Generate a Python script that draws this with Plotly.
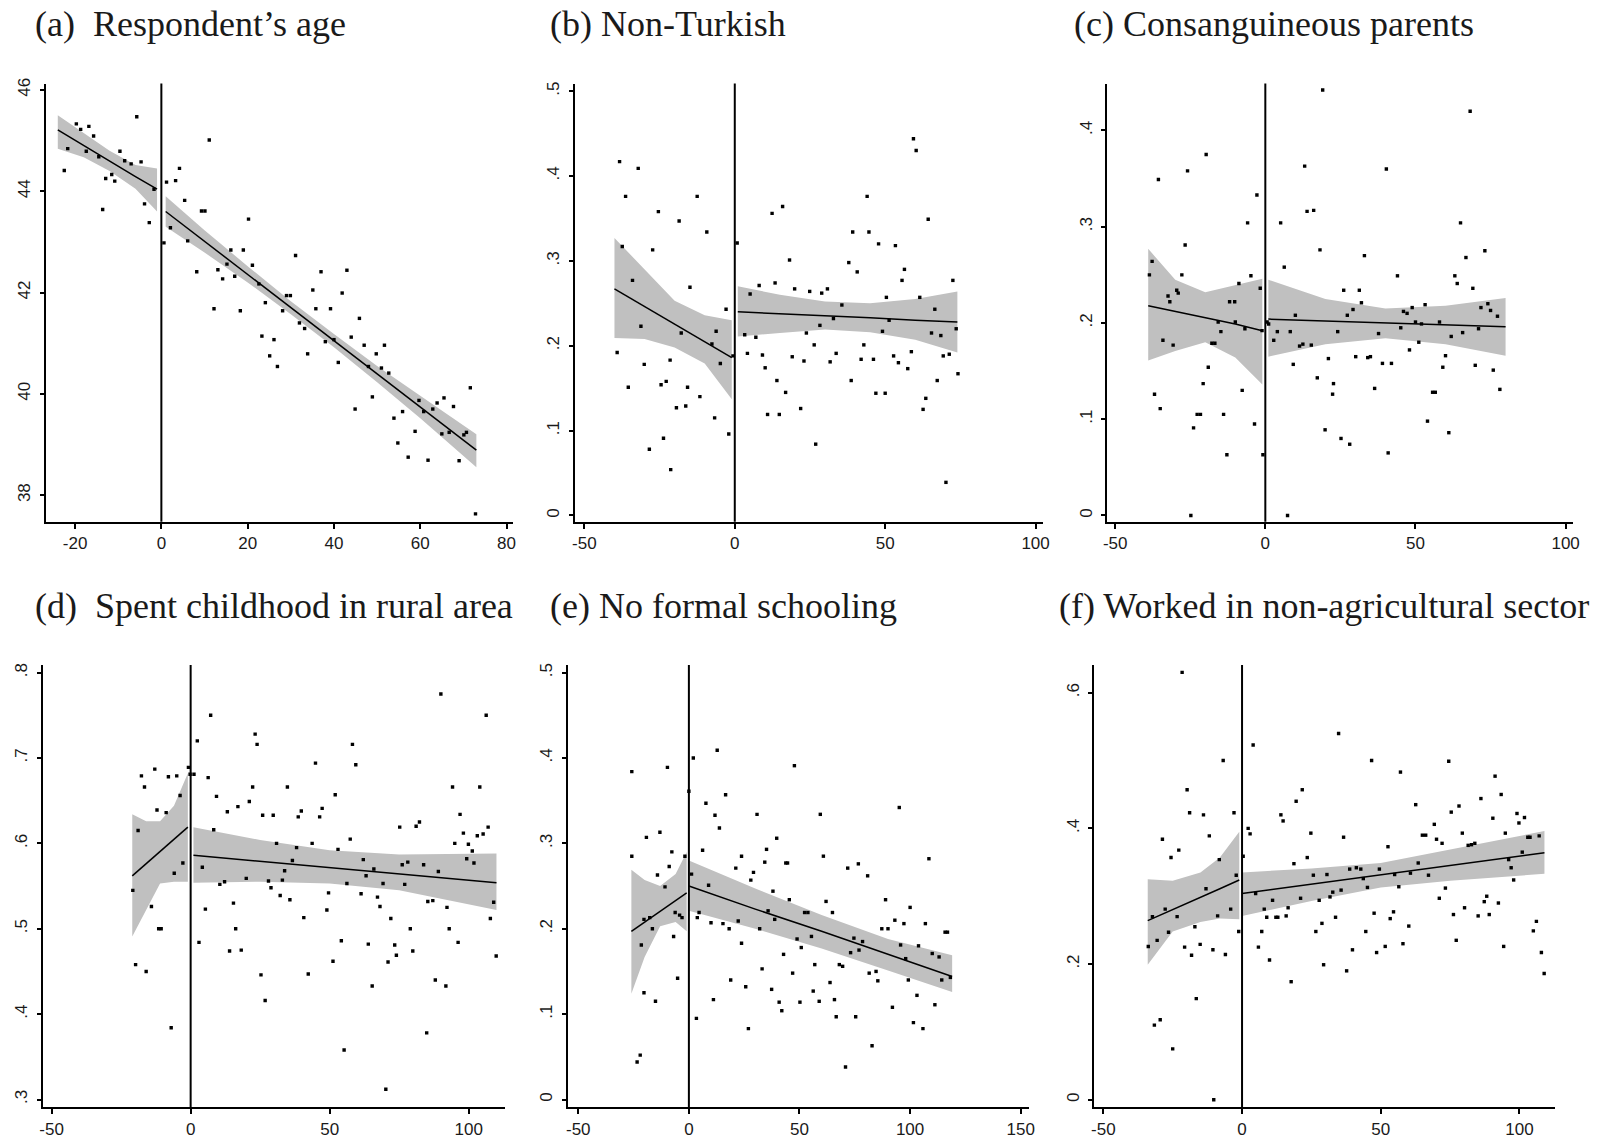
import plotly.graph_objects as go

# ---------------- (a) Respondent's age ----------------
a_x = [-22.5,-21.7,-19.7,-18.7,-16.8,-15.7,-17.4,-14.5,-13.6,-12.9,-11.5,-10.8,-9.6,-8.5,-7.0,-5.7,-4.7,-3.9,-2.8,-1.7,
       0.6,1.2,2.1,3.3,4.2,5.4,6.1,8.2,9.3,10.1,11.1,12.2,13.1,14.2,15.2,16.1,17.0,18.3,19.0,20.2,21.1,22.6,23.3,24.1,25.1,
       26.1,26.9,28.1,29.0,29.9,31.1,32.0,33.2,33.9,35.1,35.8,37.0,38.0,39.2,40.0,41.0,41.9,43.0,44.0,44.9,45.9,47.0,48.0,
       48.9,49.8,51.0,51.7,52.7,53.9,54.8,55.9,57.2,58.8,59.7,60.8,61.8,62.9,63.9,65.0,65.5,66.7,67.7,69.0,70.1,70.7,71.6,72.8]
a_y = [44.41,44.84,45.33,45.22,45.28,45.09,44.79,44.68,43.64,44.25,44.33,44.20,44.79,44.60,44.54,45.47,44.58,43.75,43.38,44.04,
       42.98,44.18,43.28,44.21,44.45,43.82,43.02,42.41,43.61,43.61,45.01,41.68,42.45,42.27,42.56,42.84,42.32,41.64,42.84,43.45,
       42.54,42.17,41.14,41.80,40.75,41.07,40.54,41.64,41.94,41.94,42.73,41.40,41.29,40.79,42.05,41.68,42.41,41.03,41.68,41.07,
       40.62,41.99,42.44,41.12,39.70,41.49,40.96,40.54,39.94,40.79,40.51,40.96,40.41,39.52,39.03,39.65,38.75,39.26,39.87,39.65,
       38.69,39.70,39.82,39.21,39.92,39.24,39.75,38.68,39.19,39.24,40.12,37.63]
a_left_x = [-24, -18, -12, -6, -1]
a_left_fit = [45.21, 44.90, 44.60, 44.29, 44.04]
a_left_hi = [45.50, 45.15, 44.80, 44.52, 44.45]
a_left_lo = [44.84, 44.67, 44.40, 44.05, 43.60]
a_right_x = [1, 10, 20, 30, 40, 50, 60, 73]
a_right_fit = [43.60, 43.01, 42.36, 41.70, 41.05, 40.39, 39.74, 38.89]
a_right_hi = [43.90, 43.23, 42.52, 41.83, 41.18, 40.55, 39.96, 39.20]
a_right_lo = [43.30, 42.79, 42.20, 41.57, 40.92, 40.23, 39.52, 38.55]

# ---------------- (b) Non-Turkish ----------------
b_x = [-39.1,-38.3,-37.4,-36.3,-35.4,-34.0,-32.1,-31.2,-30.1,-28.4,-27.3,-25.4,-24.5,-23.7,-22.8,-21.5,-21.3,-19.4,-18.5,-17.8,
       -16.3,-15.7,-14.9,-12.5,-11.6,-9.3,-7.6,-6.7,-6.2,-4.8,-2.9,-2.0,-0.6,0.8,3.3,4.2,5.1,7.0,8.1,9.2,10.1,10.9,12.4,13.4,
       14.0,14.8,15.9,16.9,18.2,19.1,19.9,21.9,23.0,23.8,24.9,26.4,26.9,28.3,28.9,30.8,31.7,32.8,33.7,35.6,37.9,38.7,39.2,40.7,
       42.9,42.0,44.0,44.6,46.1,46.9,47.8,49.1,50.0,50.4,51.3,52.8,53.4,54.4,55.6,56.4,57.5,58.7,59.4,60.3,61.5,62.6,63.5,64.3,
       65.4,66.5,67.3,68.5,69.3,70.2,71.3,72.5,73.6,74.2]
b_y = [0.192,0.417,0.317,0.376,0.151,0.277,0.409,0.223,0.178,0.078,0.313,0.358,0.154,0.091,0.158,0.183,0.054,0.127,0.347,0.215,
       0.129,0.151,0.269,0.376,0.140,0.334,0.202,0.115,0.217,0.179,0.243,0.096,0.188,0.321,0.213,0.191,0.261,0.210,0.271,0.189,
       0.174,0.119,0.356,0.274,0.159,0.119,0.364,0.145,0.301,0.187,0.267,0.126,0.182,0.215,0.264,0.201,0.084,0.224,0.262,0.267,
       0.181,0.232,0.191,0.248,0.298,0.159,0.334,0.287,0.201,0.184,0.376,0.334,0.184,0.144,0.320,0.217,0.144,0.257,0.230,0.188,
       0.318,0.180,0.277,0.290,0.173,0.193,0.444,0.430,0.257,0.125,0.138,0.349,0.215,0.243,0.159,0.212,0.188,0.039,0.190,0.277,
       0.220,0.167]
b_left_x = [-40, -30, -20, -10, -1]
b_left_fit = [0.267, 0.246, 0.225, 0.205, 0.186]
b_left_hi = [0.327, 0.290, 0.253, 0.236, 0.230]
b_left_lo = [0.209, 0.208, 0.198, 0.179, 0.137]
b_right_x = [1, 15, 30, 45, 60, 74]
b_right_fit = [0.240, 0.238, 0.235, 0.233, 0.230, 0.228]
b_right_hi = [0.270, 0.260, 0.252, 0.250, 0.255, 0.264]
b_right_lo = [0.211, 0.215, 0.219, 0.216, 0.207, 0.192]

# ---------------- (c) Consanguineous parents ----------------
c_x = [-38.6,-37.7,-36.9,-35.0,-35.6,-34.1,-32.4,-31.8,-30.7,-29.5,-29.0,-27.8,-26.7,-25.9,-24.8,-23.9,-22.7,-21.6,-20.7,-19.7,
       -19.0,-17.8,-16.8,-15.7,-14.8,-13.9,-12.8,-11.9,-10.2,-10.0,-8.8,-7.7,-6.8,-5.9,-4.8,-3.6,-2.8,-1.7,-1.1,-0.8,0.6,1.1,
       2.8,4.0,5.1,6.3,7.4,8.3,9.3,10.0,11.4,12.5,13.1,13.9,15.3,16.1,17.3,18.2,19.1,19.9,21.0,22.4,22.7,24.1,25.2,26.1,27.3,
       28.1,29.2,30.1,31.3,32.0,33.0,34.1,35.0,36.4,37.7,39.0,40.3,40.9,42.0,44.0,45.1,46.0,47.2,48.0,48.9,50.0,51.1,52.0,53.2,
       54.0,55.7,56.6,58.0,59.1,60.0,61.1,61.9,63.1,63.9,65.0,65.7,66.8,68.2,69.1,69.9,71.0,71.8,73.1,74.1,75.0,75.9,77.3,78.1]
c_y = [0.250,0.264,0.126,0.111,0.349,0.182,0.228,0.222,0.177,0.234,0.231,0.250,0.281,0.358,0.000,0.091,0.105,0.105,0.137,0.375,
       0.154,0.179,0.179,0.201,0.191,0.105,0.063,0.222,0.222,0.201,0.241,0.130,0.194,0.304,0.249,0.095,0.333,0.236,0.192,0.063,
       0.201,0.199,0.182,0.191,0.304,0.258,0.000,0.191,0.157,0.208,0.176,0.178,0.363,0.316,0.177,0.317,0.143,0.276,0.442,0.089,
       0.163,0.126,0.137,0.191,0.080,0.234,0.208,0.074,0.214,0.165,0.234,0.221,0.270,0.164,0.165,0.132,0.189,0.158,0.360,0.065,
       0.158,0.249,0.195,0.212,0.210,0.172,0.216,0.201,0.180,0.199,0.219,0.098,0.128,0.128,0.201,0.154,0.166,0.086,0.186,0.249,
       0.241,0.304,0.190,0.268,0.420,0.236,0.156,0.194,0.216,0.275,0.220,0.213,0.151,0.207,0.131]
c_left_x = [-39, -30, -20, -10, -1]
c_left_fit = [0.218, 0.212, 0.206, 0.199, 0.192]
c_left_hi = [0.277, 0.245, 0.232, 0.239, 0.246]
c_left_lo = [0.161, 0.171, 0.180, 0.164, 0.136]
c_right_x = [1, 20, 40, 60, 80]
c_right_fit = [0.204, 0.202, 0.200, 0.198, 0.196]
c_right_hi = [0.245, 0.225, 0.215, 0.218, 0.226]
c_right_lo = [0.165, 0.178, 0.184, 0.178, 0.166]

# ---------------- (d) Spent childhood in rural area ----------------
d_x = [-20.8,-19.8,-18.9,-17.7,-16.6,-16.0,-14.1,-12.9,-12.1,-11.5,-10.6,-8.8,-8.0,-7.0,-5.9,-5.0,-3.8,-2.8,-0.8,-0.2,1.2,2.4,
       3.0,4.2,5.3,6.3,7.2,8.3,9.3,10.5,12.2,13.2,14.0,15.4,16.2,17.0,18.2,20.0,21.1,22.3,23.2,23.9,25.3,25.9,26.8,28.0,28.9,
       29.7,30.9,32.2,33.0,33.8,34.8,35.7,36.6,38.1,38.7,39.8,40.7,42.3,43.7,44.9,46.4,47.3,49.0,49.6,51.2,52.0,53.0,54.2,55.2,
       56.2,57.4,58.2,59.4,61.3,62.1,63.1,63.9,65.3,65.9,67.2,68.1,69.2,70.2,71.0,72.0,73.4,74.0,75.2,76.1,77.0,78.1,79.0,79.9,
       81.1,82.3,83.8,84.9,85.3,87.1,88.0,89.1,90.0,91.8,92.2,93.0,94.2,95.0,96.2,96.9,98.1,99.3,99.9,101.3,101.9,103.1,104.0,
       105.2,106.3,107.0,107.8,109.0,109.9]
d_y = [0.545,0.458,0.615,0.679,0.666,0.450,0.526,0.687,0.639,0.500,0.500,0.636,0.678,0.384,0.565,0.679,0.656,0.577,0.689,0.681,
       0.681,0.720,0.484,0.572,0.523,0.677,0.750,0.616,0.655,0.552,0.555,0.637,0.474,0.530,0.500,0.643,0.475,0.559,0.649,0.666,
       0.728,0.716,0.446,0.633,0.416,0.556,0.548,0.633,0.600,0.539,0.557,0.568,0.666,0.534,0.580,0.595,0.631,0.638,0.513,0.447,
       0.600,0.694,0.631,0.641,0.522,0.542,0.462,0.657,0.593,0.486,0.358,0.553,0.605,0.716,0.692,0.541,0.581,0.562,0.482,0.433,
       0.570,0.537,0.526,0.553,0.312,0.461,0.512,0.481,0.469,0.619,0.575,0.552,0.578,0.500,0.474,0.620,0.625,0.575,0.378,0.532,
       0.533,0.440,0.567,0.775,0.433,0.525,0.500,0.666,0.600,0.484,0.634,0.612,0.582,0.599,0.591,0.577,0.609,0.666,0.611,0.750,
       0.619,0.512,0.531,0.468]
d_left_x = [-21, -16, -11, -6, -1]
d_left_fit = [0.562, 0.576, 0.591, 0.605, 0.619]
d_left_hi = [0.634, 0.626, 0.626, 0.644, 0.682]
d_left_lo = [0.491, 0.522, 0.553, 0.555, 0.555]
d_right_x = [1, 25, 50, 75, 110]
d_right_fit = [0.586, 0.579, 0.572, 0.565, 0.554]
d_right_hi = [0.619, 0.604, 0.592, 0.587, 0.588]
d_right_lo = [0.554, 0.555, 0.553, 0.545, 0.522]

# ---------------- (e) No formal schooling ----------------
e_x = [-25.8,-25.8,-23.4,-22.0,-21.5,-20.3,-20.3,-19.2,-17.7,-16.5,-15.1,-14.2,-13.1,-10.8,-9.7,-8.9,-7.7,-6.9,-6.2,-5.1,-4.2,
       -3.1,-1.8,0.0,1.2,2.0,3.4,3.8,4.6,6.2,7.7,8.9,10.0,11.1,11.8,12.8,13.8,15.4,16.6,18.2,18.9,21.2,22.3,23.8,23.8,25.7,26.9,
       28.0,29.2,30.8,32.0,33.1,34.3,35.1,35.8,37.4,38.0,38.8,39.7,40.8,42.0,42.8,43.8,44.6,45.4,46.9,47.7,48.9,50.2,50.8,52.3,
       53.8,55.4,56.2,56.9,58.9,59.4,60.8,62.0,63.8,64.9,65.8,66.6,68.0,69.5,70.8,71.8,73.1,74.6,75.4,76.6,76.9,78.5,80.8,81.5,
       82.8,84.6,85.4,87.2,88.9,90.0,92.0,93.1,95.1,95.7,97.2,98.0,99.2,100.0,101.5,103.1,103.8,105.8,106.9,108.5,110.0,111.2,
       113.1,114.3,115.8,116.9,118.2]
e_y = [0.384,0.285,0.044,0.052,0.181,0.211,0.125,0.307,0.213,0.200,0.115,0.263,0.313,0.249,0.389,0.273,0.290,0.191,0.219,0.142,
       0.216,0.213,0.285,0.361,0.264,0.400,0.095,0.213,0.219,0.292,0.347,0.251,0.207,0.117,0.333,0.409,0.318,0.206,0.357,0.200,
       0.140,0.271,0.209,0.183,0.285,0.132,0.083,0.257,0.266,0.334,0.200,0.153,0.278,0.293,0.221,0.129,0.244,0.211,0.306,0.114,
       0.104,0.170,0.277,0.277,0.234,0.148,0.391,0.188,0.114,0.178,0.219,0.219,0.191,0.127,0.158,0.115,0.334,0.285,0.232,0.137,
       0.219,0.117,0.097,0.158,0.156,0.038,0.271,0.172,0.189,0.097,0.276,0.175,0.185,0.262,0.148,0.063,0.150,0.139,0.200,0.234,
       0.200,0.108,0.210,0.342,0.181,0.206,0.165,0.140,0.225,0.090,0.122,0.180,0.083,0.206,0.282,0.171,0.111,0.167,0.140,0.196,
       0.196,0.143]
e_left_x = [-26, -20, -13, -6, -1]
e_left_fit = [0.197, 0.208, 0.220, 0.233, 0.242]
e_left_hi = [0.269, 0.257, 0.250, 0.264, 0.290]
e_left_lo = [0.124, 0.167, 0.203, 0.208, 0.197]
e_right_x = [0, 30, 60, 90, 119]
e_right_fit = [0.250, 0.223, 0.197, 0.170, 0.144]
e_right_hi = [0.280, 0.247, 0.216, 0.188, 0.169]
e_right_lo = [0.221, 0.200, 0.177, 0.151, 0.126]

# ---------------- (f) Worked in non-agricultural sector ----------------
f_x = [-33.8,-32.3,-31.6,-30.6,-29.5,-28.7,-27.7,-26.5,-25.6,-25.0,-23.4,-22.8,-21.6,-20.7,-19.8,-18.9,-18.2,-17.0,-16.5,-15.1,
       -13.9,-13.0,-11.8,-10.5,-10.2,-8.8,-8.2,-6.8,-6.0,-4.1,-2.9,-2.1,-1.2,0.4,2.2,2.9,4.0,4.9,5.9,7.1,8.0,8.9,9.9,11.0,12.2,
       12.9,14.0,14.8,15.9,16.6,17.7,18.7,19.5,21.1,21.7,23.5,24.8,25.7,26.6,27.8,28.8,29.4,30.6,31.7,32.7,33.7,34.8,35.7,36.6,
       37.7,38.8,39.8,41.2,42.8,43.7,44.6,45.2,46.7,47.6,48.5,49.5,51.6,52.6,53.4,54.6,55.0,56.5,57.1,58.0,60.1,60.7,62.6,63.5,
       65.0,66.2,67.2,69.3,70.1,71.1,72.1,73.3,74.5,75.4,76.2,77.2,78.2,79.4,80.2,81.5,82.7,83.9,85.1,86.1,87.3,88.2,89.1,90.4,
       91.2,92.4,93.4,94.3,94.9,96.1,97.0,97.9,99.1,99.8,101.0,101.8,103.0,103.8,105.0,106.1,107.1,107.9,108.9]
f_y = [0.226,0.270,0.110,0.235,0.118,0.384,0.281,0.247,0.357,0.075,0.270,0.368,0.630,0.225,0.457,0.423,0.213,0.255,0.149,0.229,
       0.420,0.311,0.389,0.221,0.000,0.271,0.354,0.500,0.214,0.281,0.423,0.331,0.248,0.359,0.400,0.392,0.523,0.304,0.225,0.248,
       0.281,0.269,0.206,0.294,0.269,0.269,0.420,0.411,0.271,0.283,0.174,0.348,0.440,0.297,0.457,0.357,0.393,0.331,0.248,0.294,
       0.260,0.199,0.332,0.299,0.306,0.269,0.540,0.309,0.387,0.190,0.340,0.221,0.342,0.340,0.326,0.248,0.313,0.500,0.275,0.217,
       0.340,0.226,0.373,0.267,0.277,0.332,0.314,0.483,0.230,0.256,0.334,0.435,0.349,0.390,0.390,0.331,0.406,0.384,0.297,0.378,
       0.312,0.499,0.424,0.273,0.235,0.433,0.393,0.283,0.375,0.376,0.378,0.271,0.444,0.292,0.300,0.273,0.415,0.477,0.290,0.450,
       0.226,0.393,0.354,0.342,0.324,0.422,0.408,0.365,0.416,0.387,0.387,0.249,0.263,0.389,0.217,0.186]
f_left_x = [-34, -25, -15, -8, -1]
f_left_fit = [0.264, 0.280, 0.298, 0.311, 0.324]
f_left_hi = [0.325, 0.323, 0.335, 0.357, 0.395]
f_left_lo = [0.199, 0.248, 0.262, 0.267, 0.266]
f_right_x = [0, 25, 50, 75, 109]
f_right_fit = [0.304, 0.318, 0.331, 0.345, 0.364]
f_right_hi = [0.335, 0.341, 0.349, 0.369, 0.396]
f_right_lo = [0.271, 0.293, 0.313, 0.323, 0.333]

# ---------------- titles & ticks ----------------
titles = ["(a)\u00a0\u00a0Respondent\u2019s age", "(b) Non-Turkish", "(c) Consanguineous parents",
          "(d)\u00a0\u00a0Spent childhood in rural area", "(e) No formal schooling",
          "(f) Worked in non-agricultural sector"]
a_yticks = [38, 40, 42, 44, 46]; a_ytext = ["38", "40", "42", "44", "46"]
a_xticks = [-20, 0, 20, 40, 60, 80]
b_yticks = [0, 0.1, 0.2, 0.3, 0.4, 0.5]; b_ytext = ["0", ".1", ".2", ".3", ".4", ".5"]
b_xticks = [-50, 0, 50, 100]
c_yticks = [0, 0.1, 0.2, 0.3, 0.4]; c_ytext = ["0", ".1", ".2", ".3", ".4"]
c_xticks = [-50, 0, 50, 100]
d_yticks = [0.3, 0.4, 0.5, 0.6, 0.7, 0.8]; d_ytext = [".3", ".4", ".5", ".6", ".7", ".8"]
d_xticks = [-50, 0, 50, 100]
e_yticks = [0, 0.1, 0.2, 0.3, 0.4, 0.5]; e_ytext = ["0", ".1", ".2", ".3", ".4", ".5"]
e_xticks = [-50, 0, 50, 100, 150]
f_yticks = [0, 0.2, 0.4, 0.6]; f_ytext = ["0", ".2", ".4", ".6"]
f_xticks = [-50, 0, 50, 100]

W, H = 1601, 1139
BAND = "rgb(192,192,192)"

panels = [
    dict(x=a_x, y=a_y, L=(a_left_x, a_left_fit, a_left_hi, a_left_lo), R=(a_right_x, a_right_fit, a_right_hi, a_right_lo),
         box=(42, 513, 78, 519), xr=[-26.8, 81.6], yr=[37.474, 46.126], xt=a_xticks, yt=a_yticks, ytt=a_ytext,
         title=(29, 18)),
    dict(x=b_x, y=b_y, L=(b_left_x, b_left_fit, b_left_hi, b_left_lo), R=(b_right_x, b_right_fit, b_right_hi, b_right_lo),
         box=(575, 1046, 78, 519), xr=[-53.1, 102.4], yr=[-0.0075, 0.509], xt=b_xticks, yt=b_yticks, ytt=b_ytext,
         title=(548, 18)),
    dict(x=c_x, y=c_y, L=(c_left_x, c_left_fit, c_left_hi, c_left_lo), R=(c_right_x, c_right_fit, c_right_hi, c_right_lo),
         box=(1111, 1580, 78, 519), xr=[-52.6, 102.5], yr=[-0.0066, 0.4488], xt=c_xticks, yt=c_yticks, ytt=c_ytext,
         title=(1075, 18)),
    dict(x=d_x, y=d_y, L=(d_left_x, d_left_fit, d_left_hi, d_left_lo), R=(d_right_x, d_right_fit, d_right_hi, d_right_lo),
         box=(39, 504, 663, 1108), xr=[-53.2, 112.9], yr=[0.291, 0.809], xt=d_xticks, yt=d_yticks, ytt=d_ytext,
         title=(29, 604)),
    dict(x=e_x, y=e_y, L=(e_left_x, e_left_fit, e_left_hi, e_left_lo), R=(e_right_x, e_right_fit, e_right_hi, e_right_lo),
         box=(568, 1032, 663, 1108), xr=[-54.6, 153.7], yr=[-0.009, 0.509], xt=e_xticks, yt=e_yticks, ytt=e_ytext,
         title=(548, 604)),
    dict(x=f_x, y=f_y, L=(f_left_x, f_left_fit, f_left_hi, f_left_lo), R=(f_right_x, f_right_fit, f_right_hi, f_right_lo),
         box=(1098, 1562, 663, 1108), xr=[-53.2, 112.9], yr=[-0.011, 0.641], xt=f_xticks, yt=f_yticks, ytt=f_ytext,
         title=(1060, 604)),
]

fig = go.Figure()
layout = dict(width=W, height=H, margin=dict(l=0, r=0, t=0, b=0), paper_bgcolor="white",
              plot_bgcolor="white", showlegend=False)
shapes = []
annotations = []
tickfont = dict(family="Liberation Sans, Arial, sans-serif", size=17, color="#1a1a1a")

for i, p in enumerate(panels):
    n = "" if i == 0 else str(i + 1)
    xa, ya = "x" + n, "y" + n
    for seg in (p["L"], p["R"]):
        sx, sfit, shi, slo = seg
        fig.add_trace(go.Scatter(x=list(sx) + list(sx)[::-1], y=list(shi) + list(slo)[::-1], fill="toself",
                                 fillcolor=BAND, line=dict(width=0), mode="lines", hoverinfo="skip",
                                 xaxis=xa, yaxis=ya))
    fig.add_trace(go.Scatter(x=p["x"], y=p["y"], mode="markers",
                             marker=dict(symbol="square", size=3.4, color="black", line=dict(width=0)),
                             xaxis=xa, yaxis=ya))
    for seg in (p["L"], p["R"]):
        sx, sfit, shi, slo = seg
        fig.add_trace(go.Scatter(x=sx, y=sfit, mode="lines", line=dict(color="black", width=1.5),
                                 xaxis=xa, yaxis=ya))
    x0, x1, y0, y1 = p["box"]
    layout["xaxis" + n] = dict(domain=[x0 / W, x1 / W], range=p["xr"], anchor=ya, showgrid=False, zeroline=False,
                               showline=True, linecolor="black", linewidth=2, ticks="outside", ticklen=5,
                               tickwidth=1.5, tickcolor="black", tickvals=p["xt"], ticktext=[str(v) for v in p["xt"]],
                               tickfont=tickfont)
    layout["yaxis" + n] = dict(domain=[1 - y1 / H, 1 - y0 / H], range=p["yr"], anchor=xa, showgrid=False,
                               zeroline=False, showline=True, linecolor="black", linewidth=2, ticks="outside",
                               ticklen=4, tickwidth=1.5, tickcolor="black", tickvals=p["yt"], ticktext=p["ytt"],
                               tickangle=-90, tickfont=tickfont, ticklabelstandoff=3)
    shapes.append(dict(type="line", xref=xa, yref=ya + " domain", x0=0, x1=0, y0=0, y1=1,
                       line=dict(color="black", width=2)))
    tx, ty = p["title"]
    annotations.append(dict(text=titles[i], xref="paper", yref="paper",
                            x=tx / W, y=1 - ty / H, xanchor="left", yanchor="middle", showarrow=False,
                            font=dict(family="Liberation Serif, Times New Roman, serif", size=36, color="#1a1a1a")))

layout["shapes"] = shapes
layout["annotations"] = annotations
fig.update_layout(**layout)
fig.write_html("out.html", config={"displayModeBar": False},
               post_script="document.body.style.margin='0';")
